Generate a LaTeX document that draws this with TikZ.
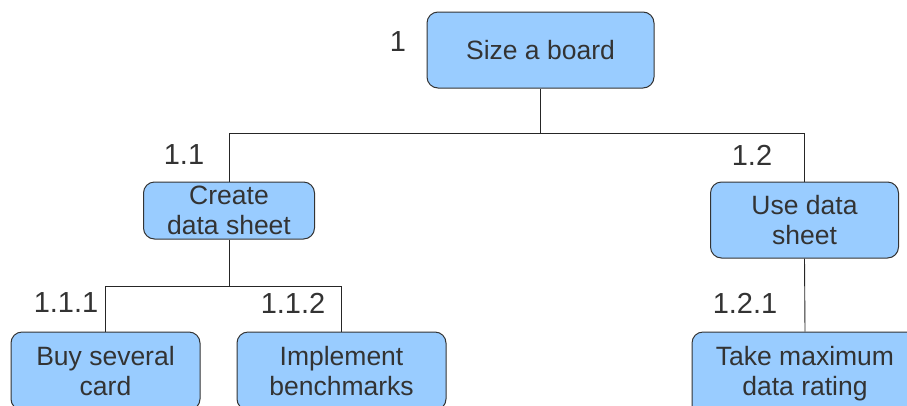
\documentclass[tikz,border=0pt]{standalone}
\usepackage{fontspec}
\setmainfont{Liberation Sans}
\definecolor{boxfill}{HTML}{99CCFF}
\definecolor{txt}{HTML}{333333}
\definecolor{edge}{HTML}{333333}
\begin{document}
\begin{tikzpicture}[x=1pt,y=-1pt,
  task/.style={draw=edge, line width=1pt, fill=boxfill, rounded corners=11pt,
    align=center, inner sep=0pt, text=txt, font=\fontsize{26.5}{30}\selectfont},
  num/.style={text=txt, inner sep=0pt, font=\fontsize{29}{32}\selectfont},
  link/.style={draw=black!85, line width=0.9pt}]
\useasboundingbox (0,0) rectangle (907,405);
\node[task, minimum width=227pt, minimum height=76pt] (n1) at (540.5,50) {Size a board};
\node[task, minimum width=171pt, minimum height=57pt] (n11) at (229,210.5) {Create\\data sheet};
\node[task, minimum width=188pt, minimum height=76pt] (n12) at (804.5,220) {Use data\\sheet};
\node[task, minimum width=189pt, minimum height=78pt] (n111) at (105.5,371) {Buy several\\card};
\node[task, minimum width=209pt, minimum height=78pt] (n112) at (341.5,371) {Implement\\benchmarks};
\node[task, minimum width=226pt, minimum height=84pt] (n121) at (805,374) {Take maximum\\data rating};
\node[num] (l1) at (398,42) {1};
\node[num] (l11) at (184,155) {1.1};
\node[num] (l12) at (752,155) {1.2};
\node[num] (l111) at (66,303) {1.1.1};
\node[num] (l112) at (293,303) {1.1.2};
\node[num] (l121) at (745,303) {1.2.1};
\coordinate (j1) at (540.5,133);
\coordinate (j11) at (229,286);
\draw[link] (n1.south) -- (j1) -| (n11.north);
\draw[link] (j1) -| (n12.north);
\draw[link] (n11.south) -- (j11) -| (n111.north);
\draw[link] (j11) -| (n112.north);
\draw[link] (n12.south) -- (n121.north);
\end{tikzpicture}
\end{document}
